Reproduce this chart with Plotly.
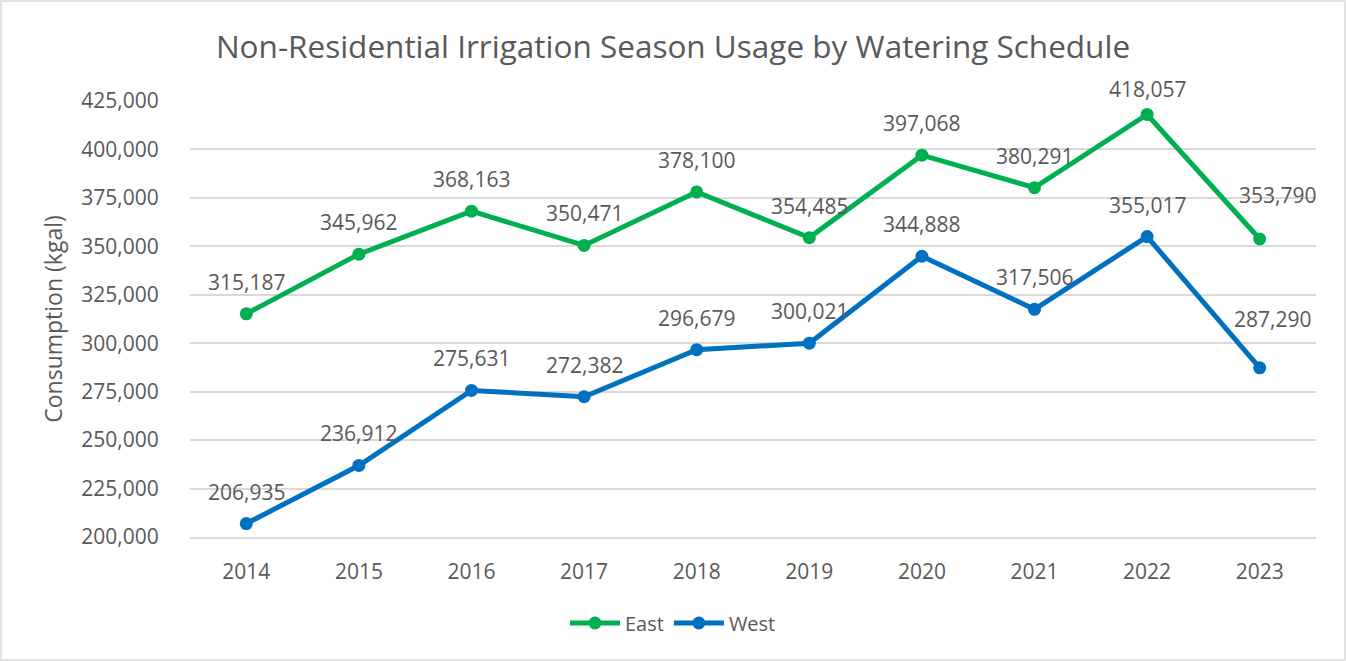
import plotly.graph_objects as go

years = ["2014", "2015", "2016", "2017", "2018", "2019", "2020", "2021", "2022", "2023"]
east = [315187, 345962, 368163, 350471, 378100, 354485, 397068, 380291, 418057, 353790]
west = [206935, 236912, 275631, 272382, 296679, 300021, 344888, 317506, 355017, 287290]
tick_vals = [200000, 225000, 250000, 275000, 300000, 325000, 350000, 375000, 400000, 425000]

GREEN = "#00B050"
BLUE = "#0070C0"
TEXT = "#595959"
GRID = "#D9D9D9"
FONT = "Open Sans"
W, H = 1346, 661
L, R, T, B = 190, 30, 101, 124

# label offsets (pixels) that differ from the default "above" placement
label_shift = {("East", 8): (0, 25), ("East", 9): (18, 44), ("West", 9): (13, 49)}

fig = go.Figure()
fig.add_trace(go.Scatter(x=years, y=east, name="East", mode="lines+markers",
                         line=dict(color=GREEN, width=5), marker=dict(size=13, color=GREEN)))
fig.add_trace(go.Scatter(x=years, y=west, name="West", mode="lines+markers",
                         line=dict(color=BLUE, width=5), marker=dict(size=13, color=BLUE)))

annotations = []
for name, series in (("East", east), ("West", west)):
    for i, yv in enumerate(series):
        dx, dy = label_shift.get((name, i), (0, 32))
        annotations.append(dict(x=i, y=yv, xref="x", yref="y", text=f"{yv:,}",
                                showarrow=False, yanchor="middle", xanchor="center",
                                xshift=dx, yshift=dy,
                                font=dict(family=FONT, size=21, color=TEXT)))

fig.update_layout(
    width=W, height=H,
    paper_bgcolor="white", plot_bgcolor="white",
    margin=dict(l=L, r=R, t=T, b=B),
    title=dict(text="Non-Residential Irrigation Season Usage by Watering Schedule",
               x=0.5, xref="container", xanchor="center", y=1 - 47 / H, yref="container",
               yanchor="middle", font=dict(family=FONT, size=31.5, color=TEXT)),
    font=dict(family=FONT, color=TEXT),
    showlegend=True,
    legend=dict(orientation="h", x=0.5, xref="container", xanchor="center",
                y=1 - 623 / H, yref="container", yanchor="middle", itemwidth=50,
                font=dict(family=FONT, size=20, color=TEXT)),
    annotations=annotations,
    xaxis=dict(type="category", range=[-0.5, 9.5], showgrid=False,
               showline=True, linecolor=GRID, linewidth=1.5,
               ticks="outside", ticklen=15, tickcolor="rgba(0,0,0,0)",
               tickfont=dict(family=FONT, size=21, color=TEXT)),
    yaxis=dict(range=[200000, 425000], tickvals=tick_vals, tickformat=",",
               showgrid=True, gridcolor=GRID, gridwidth=1.5, zeroline=False,
               ticks="outside", ticklen=26, tickcolor="rgba(0,0,0,0)",
               tickfont=dict(family=FONT, size=21, color=TEXT),
               title=dict(text="Consumption (kgal)", standoff=12,
                          font=dict(family=FONT, size=23, color=TEXT))),
    shapes=[dict(type="rect", xref="paper", yref="paper",
                 x0=-(L - 1) / (W - L - R), x1=1 + (R - 1) / (W - L - R),
                 y0=-(B - 1) / (H - T - B), y1=1 + (T - 1) / (H - T - B),
                 line=dict(color=GRID, width=1.5), fillcolor="rgba(0,0,0,0)")],
)

fig.write_html("out.html", config={"displayModeBar": False},
               post_script="document.body.style.margin='0';")
